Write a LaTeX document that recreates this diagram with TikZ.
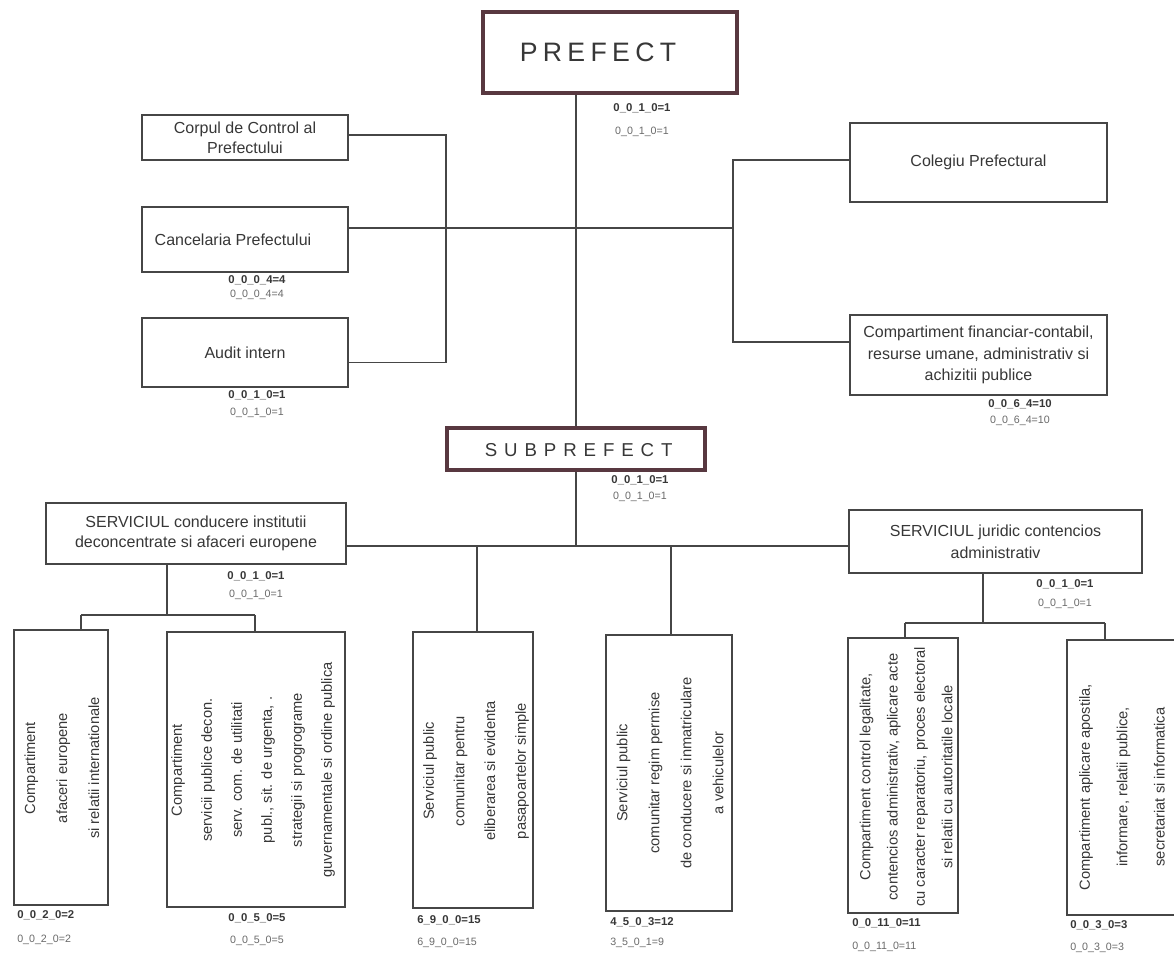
\documentclass[tikz,border=0pt]{standalone}
\usepackage{fontspec}
\setmainfont{Liberation Sans}
\newfontfamily\headfont{Liberation Sans}
\usepackage{tikz}
\usetikzlibrary{fit}

\definecolor{inkgray}{RGB}{55,55,55}
\definecolor{linegray}{RGB}{70,70,70}
\definecolor{headframe}{RGB}{88,56,64}
\definecolor{countgray}{RGB}{105,105,105}

\tikzset{
  unitbox/.style={draw=linegray, line width=1.1pt, inner sep=0pt},
  headbox/.style={draw=headframe, line width=3pt, inner sep=0pt},
  boxtext/.style={align=center, text=inkgray, inner sep=0pt, font=\fontsize{12}{16}\selectfont},
  vtext/.style={rotate=90, align=center, text=inkgray, inner sep=0pt},
  countb/.style={font=\fontsize{8.5}{9}\selectfont\bfseries, text=inkgray, inner sep=0.75pt},
  countn/.style={font=\fontsize{8}{9}\selectfont, text=countgray, inner sep=0.75pt},
  link/.style={draw=linegray, line width=1pt},
}

\begin{document}
\begin{tikzpicture}[x=0.75pt,y=0.75pt,yscale=-1,xscale=1]
\useasboundingbox (0,0) rectangle (1174,960);
\clip (0,0) rectangle (1174,960);

%Shape: Head boxes
\node[headbox, fit={(483,12) (737,93)}] (prefect) {};
\node[headbox, fit={(447,428) (705,470)}] (subprefect) {};

%Shape: Left boxes
\node[unitbox, fit={(142,115) (348,160)}] (corpul) {};
\node[unitbox, fit={(142,207) (348,272)}] (canc) {};
\node[unitbox, fit={(142,318) (348,387)}] (audit) {};

%Shape: Right boxes
\node[unitbox, fit={(850,123) (1107,202)}] (colegiu) {};
\node[unitbox, fit={(850,315) (1107,395)}] (financiar) {};

%Shape: Services
\node[unitbox, fit={(46,503) (346,564)}] (conducere) {};
\node[unitbox, fit={(849,510) (1142,573)}] (juridic) {};

%Shape: Bottom boxes
\node[unitbox, fit={(14,630) (108,905)}] (afaceri) {};
\node[unitbox, fit={(167,632) (345,907)}] (servicii) {};
\node[unitbox, fit={(413,632) (533,908)}] (pasapoarte) {};
\node[unitbox, fit={(606,635) (732,911)}] (permise) {};
\node[unitbox, fit={(848,638) (958,913)}] (legalitate) {};
\node[unitbox, fit={(1067,640) (1180,915)}] (apostila) {};

% Text Node
\node[boxtext, font=\headfont\fontsize{20}{24}\selectfont\addfontfeature{LetterSpace=20}] (prefectT) at ([xshift=-9pt]prefect.center) {PREFECT};
\node[boxtext, font=\headfont\fontsize{14}{17}\selectfont\addfontfeature{LetterSpace=37}] (subprefectT) at ([xshift=2pt,yshift=1pt]subprefect.center) {SUBPREFECT};
\node[boxtext, font=\fontsize{12}{15}\selectfont] (corpulT) at (corpul.center) {Corpul de Control al\\Prefectului};
\node[boxtext] (cancT) at ([xshift=-9pt]canc.center) {Cancelaria Prefectului};
\node[boxtext] (auditT) at (audit.center) {Audit intern};
\node[boxtext] (colegiuT) at (colegiu.center) {Colegiu Prefectural};
\node[boxtext] (financiarT) at (financiar.center) {Compartiment financiar-contabil,\\resurse umane, administrativ si\\achizitii publice};
\node[boxtext, font=\fontsize{12}{15.5}\selectfont] (conducereT) at (conducere.center) {SERVICIUL conducere institutii\\deconcentrate si afaceri europene};
\node[boxtext, font=\fontsize{12}{16.5}\selectfont] (juridicT) at (juridic.center) {SERVICIUL juridic contencios\\administrativ};

% Text Node
\node[vtext, font=\fontsize{11}{24}\selectfont] (afaceriT) at (62,768) {Compartiment\\afaceri europene\\si relatii internationale};
% Text Node
\node[vtext, font=\fontsize{11}{22.5}\selectfont] (serviciiT) at (253,770) {Compartiment\\servicii publice decon.\\serv. com. de utilitati\\publ., sit. de urgenta, .\\strategii si progrograme\\guvernamentale si ordine publica};
% Text Node
\node[vtext, font=\fontsize{11}{23}\selectfont] (pasapoarteT) at (476,771) {Serviciul public\\comunitar pentru\\eliberarea si evidenta\\pasapoartelor simple};
% Text Node
\node[vtext, font=\fontsize{11}{24}\selectfont] (permiseT) at (670,773) {Serviciul public\\comunitar regim permise\\de conducere si inmatriculare\\a vehiculelor};
% Text Node
\node[vtext, font=\fontsize{11}{20.5}\selectfont] (legalitateT) at (906,777) {Compartiment control legalitate,\\contencios administrativ, aplicare acte\\cu caracter reparatoriu, proces electoral\\si relatii cu autoritatile locale};
% Text Node
\node[vtext, font=\fontsize{11}{28}\selectfont] (apostilaT) at (1122,787) {Compartiment aplicare apostila,\\informare, relatii publice,\\secretariat si informatica};

% Counts
\node[countb] (prefectB) at (642,108) {0\_0\_1\_0=1};
\node[countn] (prefectN) at (642,132) {0\_0\_1\_0=1};
\node[countb] (cancB) at (257,280) {0\_0\_0\_4=4};
\node[countn] (cancN) at (257,295) {0\_0\_0\_4=4};
\node[countb] (auditB) at (257,395) {0\_0\_1\_0=1};
\node[countn] (auditN) at (257,413) {0\_0\_1\_0=1};
\node[countb] (financiarB) at (1020,404) {0\_0\_6\_4=10};
\node[countn] (financiarN) at (1020,421) {0\_0\_6\_4=10};
\node[countb] (subprefectB) at (640,480) {0\_0\_1\_0=1};
\node[countn] (subprefectN) at (640,497) {0\_0\_1\_0=1};
\node[countb] (conducereB) at (256,576) {0\_0\_1\_0=1};
\node[countn] (conducereN) at (256,595) {0\_0\_1\_0=1};
\node[countb] (juridicB) at (1065,584) {0\_0\_1\_0=1};
\node[countn] (juridicN) at (1065,604) {0\_0\_1\_0=1};
\node[countb, anchor=west] (afaceriB) at (16,915) {0\_0\_2\_0=2};
\node[countn, anchor=west] (afaceriN) at (16,940) {0\_0\_2\_0=2};
\node[countb] (serviciiB) at (257,918) {0\_0\_5\_0=5};
\node[countn] (serviciiN) at (257,941) {0\_0\_5\_0=5};
\node[countb, anchor=west] (pasapoarteB) at (416,920) {6\_9\_0\_0=15};
\node[countn, anchor=west] (pasapoarteN) at (416,943) {6\_9\_0\_0=15};
\node[countb, anchor=west] (permiseB) at (609,922) {4\_5\_0\_3=12};
\node[countn, anchor=west] (permiseN) at (609,943) {3\_5\_0\_1=9};
\node[countb, anchor=west] (legalitateB) at (851,923) {0\_0\_11\_0=11};
\node[countn, anchor=west] (legalitateN) at (851,947) {0\_0\_11\_0=11};
\node[countb, anchor=west] (apostilaB) at (1069,925) {0\_0\_3\_0=3};
\node[countn, anchor=west] (apostilaN) at (1069,948) {0\_0\_3\_0=3};

% Junctions
\coordinate (spine) at (576,0);
\coordinate (lbus) at (446,0);
\coordinate (rbus) at (733,0);
\coordinate (bus) at (576,546);
\coordinate (lfork) at (167,615);
\coordinate (lforka) at (81,615);
\coordinate (lforkb) at (255,615);
\coordinate (rfork) at (983,623);
\coordinate (rforka) at (905,623);
\coordinate (rforkb) at (1105,623);

%Lines
\draw[link] (prefect.south -| spine) -- (subprefect.north -| spine);
\draw[link] ([yshift=-1.9pt]corpul.east) -- ([yshift=-1.9pt]corpul.east -| lbus) -- ([yshift=7.5pt]audit.east -| lbus) -- ([yshift=7.5pt]audit.east);
\draw[link] ([yshift=-8.6pt]canc.east) -- ([yshift=-8.6pt]canc.east -| rbus);
\draw[link] ([yshift=-1.9pt]colegiu.west) -- ([yshift=-1.9pt]colegiu.west -| rbus) -- ([yshift=-9.75pt]financiar.west -| rbus) -- ([yshift=-9.75pt]financiar.west);
\draw[link] (subprefect.south -| spine) -- (bus);
\draw[link] (conducere.east |- bus) -- (juridic.west |- bus);
\draw[link] (bus -| 477,0) -- (pasapoarte.north -| 477,0);
\draw[link] (bus -| 671,0) -- (permise.north -| 671,0);
\draw[link] (conducere.south -| lfork) -- (lfork);
\draw[link] (lforka) -- (lforkb);
\draw[link] (lforka) -- (afaceri.north -| lforka);
\draw[link] (lforkb) -- (servicii.north -| lforkb);
\draw[link] (juridic.south -| rfork) -- (rfork);
\draw[link] (rforka) -- (rforkb);
\draw[link] (rforka) -- (legalitate.north -| rforka);
\draw[link] (rforkb) -- (apostila.north -| rforkb);
\end{tikzpicture}
\end{document}
